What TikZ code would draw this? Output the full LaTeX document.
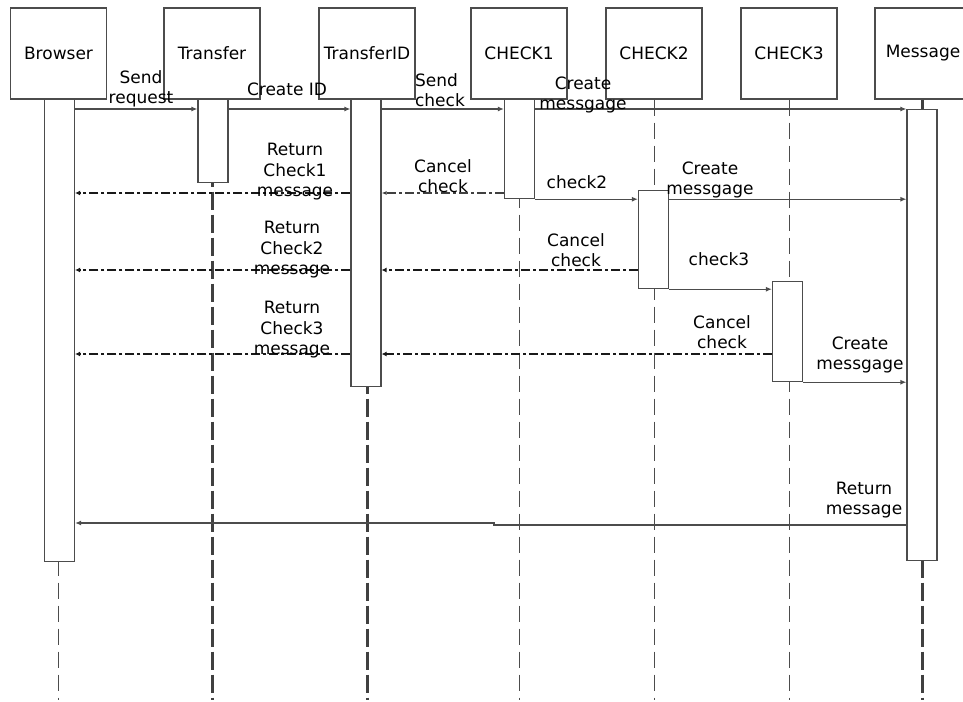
\documentclass[tikz,border=0pt]{standalone}
\usepackage{fontspec}
\setmainfont{DejaVu Sans}
\usetikzlibrary{positioning,arrows.meta}

\begin{document}
\begin{tikzpicture}[x=1pt,y=-1pt,
  objbox/.style={draw=black!70, line width=1.2pt, minimum width=96pt, minimum height=91pt, inner sep=0pt, font=\fontsize{17}{20}\selectfont},
  actbar/.style={draw=black!70, line width=1.2pt, fill=white, minimum width=30pt, inner sep=0pt, anchor=north},
  msg/.style={draw=black!70, line width=1.2pt, -{Latex[length=6pt,width=5pt]}},
  retmsg/.style={draw=black!90, line width=2.4pt, dash pattern=on 9pt off 3pt on 3pt off 3pt, -{Latex[length=5pt,width=5pt]}},
  cancelmsg/.style={draw=black!75, line width=1.6pt, dash pattern=on 9pt off 3pt on 3pt off 3pt, -{Latex[length=5pt,width=4pt]}},
  life/.style={draw=black!70, line width=1pt, dash pattern=on 16pt off 7pt},
  thicklife/.style={draw=black!75, line width=3pt, dash pattern=on 18pt off 5pt},
  lbl/.style={align=center, font=\fontsize{17}{20.5}\selectfont, inner sep=0pt}
]
\useasboundingbox (0,0) rectangle (963,701);
\node[objbox] (browser) at (58.5,53.5) {Browser};
\node[objbox] (transfer) at (212,53.5) {Transfer};
\node[objbox] (transid) at (367,53.5) {TransferID};
\node[objbox] (check1) at (519,53.5) {CHECK1};
\node[objbox] (check2) at (654,53.5) {CHECK2};
\node[objbox] (check3) at (789,53.5) {CHECK3};
\node[objbox] (message) at (923,53.5) {Message};
% lifelines
\draw[life] (browser.south) -- (browser.south |- 0,700);
\draw[thicklife] (transfer.south) -- (transfer.south |- 0,700);
\draw[thicklife] (transid.south) -- (transid.south |- 0,700);
\draw[life] (check1.south) -- (check1.south |- 0,700);
\draw[life] (check2.south) -- (check2.south |- 0,700);
\draw[life] (check3.south) -- (check3.south |- 0,700);
\draw[thicklife] (message.south -| 922,0) -- (922,700);
% activation bars
\node[actbar, minimum height=462pt] (browserbar) at (59.5,99) {};
\node[actbar, minimum height=83pt] (transferbar) at (213,99) {};
\node[actbar, minimum height=287pt] (transidbar) at (366,99) {};
\node[actbar, minimum height=99pt] (check1bar) at (519.5,99) {};
\node[actbar, minimum height=98pt] (check2bar) at (653.5,190) {};
\node[actbar, minimum height=100pt] (check3bar) at (787.5,281) {};
\node[actbar, minimum height=451pt] (messagebar) at (922,109) {};
% messages
\draw[msg] (browserbar.east |- 0,109) -- (transferbar.west |- 0,109);
\draw[msg] (transferbar.east |- 0,109) -- (transidbar.west |- 0,109);
\draw[msg] (transidbar.east |- 0,109) -- (check1bar.west |- 0,109);
\draw[msg] (check1bar.east |- 0,109) -- (messagebar.north west);
\draw[retmsg] (transidbar.west |- 0,193) -- (browserbar.east |- 0,193);
\draw[cancelmsg] (check1bar.west |- 0,193) -- (transidbar.east |- 0,193);
\draw[msg] (check1bar.south east) -- (check2bar.west |- check1bar.south);
\draw[msg] (check2bar.east |- check1bar.south) -- (messagebar.west |- check1bar.south);
\draw[retmsg] (transidbar.west |- 0,270) -- (browserbar.east |- 0,270);
\draw[retmsg] (check2bar.west |- 0,270) -- (transidbar.east |- 0,270);
\draw[msg] (check2bar.south east) -- (check3bar.west |- check2bar.south);
\draw[retmsg] (transidbar.west |- 0,354) -- (browserbar.east |- 0,354);
\draw[retmsg] (check3bar.west |- 0,354) -- (transidbar.east |- 0,354);
\draw[msg] (check3bar.south east) -- (messagebar.west |- check3bar.south);
\draw[msg] (messagebar.west |- 0,525) -- (494,525) -- (494,523) -- (browserbar.east |- 0,523);
% labels
\node[lbl] (lsendreq) at (141,89) {Send\\request};
\node[lbl] (lcreateid) at (287,89) {Create ID};
\node[lbl, align=left] (lsendchk) at (440,90) {Send\\check};
\node[lbl] (lcreatemsga) at (583,95) {Create\\messgage};
\node[lbl] (lreturna) at (295,172) {Return\\Check1\\message};
\node[lbl] (lcancela) at (443,176) {Cancel\\check};
\node[lbl] (lchecktwo) at (577,182) {check2};
\node[lbl] (lcreatemsgb) at (710,180) {Create\\messgage};
\node[lbl] (lreturnb) at (292,250) {Return\\Check2\\message};
\node[lbl] (lcancelb) at (576,250) {Cancel\\check};
\node[lbl] (lcheckthree) at (719,259) {check3};
\node[lbl] (lreturnc) at (292,330) {Return\\Check3\\message};
\node[lbl] (lcancelc) at (722,332) {Cancel\\check};
\node[lbl] (lcreatemsgc) at (860,355) {Create\\messgage};
\node[lbl] (lreturnmsg) at (864,500) {Return\\message};
\end{tikzpicture}
\end{document}
